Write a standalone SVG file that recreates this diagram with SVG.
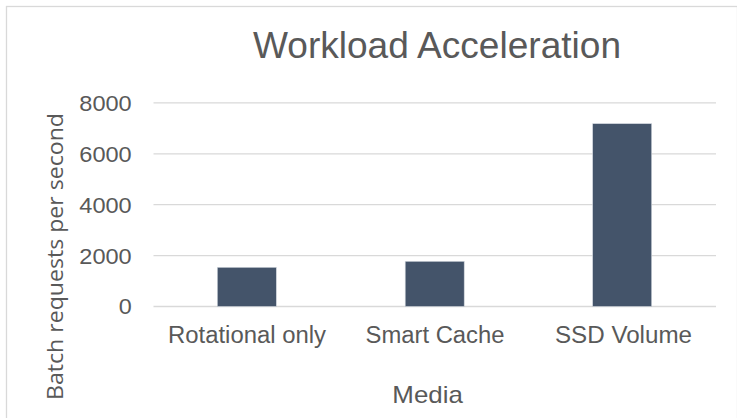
<svg xmlns="http://www.w3.org/2000/svg" width="737" height="418" viewBox="0 0 737 418">
<style>
.t{font-family:"Liberation Sans",Arial,sans-serif;fill:#595959}
.grid{stroke:#d9d9d9;stroke-width:1.3}
.bar{fill:#44546a;stroke:#d0d5dc;stroke-width:0.6}
</style>
<rect x="0" y="0" width="737" height="418" fill="#ffffff"/>
<rect x="6.5" y="6.5" width="731" height="420" fill="#ffffff" stroke="#d9d9d9" stroke-width="1.3"/>
<g id="title"><text class="t" x="437" y="58.3" font-size="36.5" text-anchor="middle" textLength="368" lengthAdjust="spacingAndGlyphs">Workload Acceleration</text></g>
<g id="gridlines">
<line class="grid" x1="153.5" y1="102.9" x2="716" y2="102.9"/>
<line class="grid" x1="153.5" y1="153.8" x2="716" y2="153.8"/>
<line class="grid" x1="153.5" y1="204.7" x2="716" y2="204.7"/>
<line class="grid" x1="153.5" y1="255.6" x2="716" y2="255.6"/>
<line class="grid" x1="153.5" y1="306.5" x2="716" y2="306.5"/>
</g>
<g id="y-ticks" class="t" font-size="22.5" text-anchor="end">
<text x="131.7" y="110.8" textLength="52.4" lengthAdjust="spacingAndGlyphs">8000</text>
<text x="131.7" y="161.7" textLength="52.4" lengthAdjust="spacingAndGlyphs">6000</text>
<text x="131.7" y="212.6" textLength="52.4" lengthAdjust="spacingAndGlyphs">4000</text>
<text x="131.7" y="263.5" textLength="52.4" lengthAdjust="spacingAndGlyphs">2000</text>
<text x="131.7" y="314.4" textLength="13" lengthAdjust="spacingAndGlyphs">0</text>
</g>
<g id="bar-rotational"><rect class="bar" x="217.3" y="267.3" width="59" height="39.2"/></g>
<g id="bar-smartcache"><rect class="bar" x="405.2" y="261.3" width="59" height="45.2"/></g>
<g id="bar-ssd"><rect class="bar" x="592.7" y="123.7" width="59" height="182.8"/></g>
<g id="x-labels" class="t" font-size="23" text-anchor="middle">
<text x="247" y="343.3" textLength="158" lengthAdjust="spacingAndGlyphs">Rotational only</text>
<text x="435" y="343.3" textLength="139" lengthAdjust="spacingAndGlyphs">Smart Cache</text>
<text x="623.5" y="343.3" textLength="137" lengthAdjust="spacingAndGlyphs">SSD Volume</text>
</g>
<g id="x-title"><text class="t" x="427.6" y="402.7" font-size="24" text-anchor="middle" textLength="70.5" lengthAdjust="spacingAndGlyphs">Media</text></g>
<g id="y-title"><text x="0" y="0" transform="translate(62.7,256.5) rotate(-90)" font-family="'Open Sans','Noto Sans',sans-serif" font-size="21" fill="#595959" text-anchor="middle" textLength="287" lengthAdjust="spacingAndGlyphs">Batch requests per second</text></g>
</svg>
